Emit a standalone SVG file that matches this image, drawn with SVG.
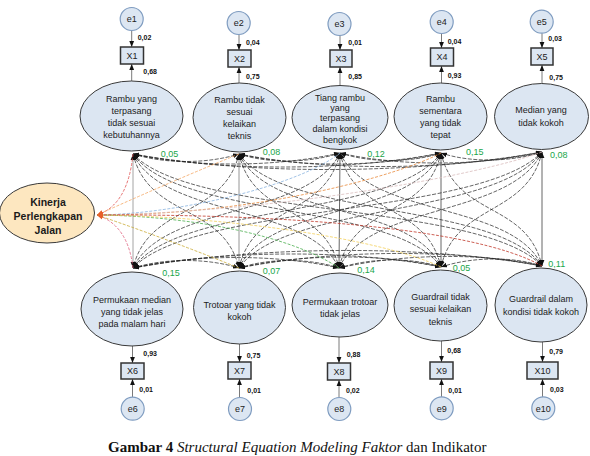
<svg xmlns="http://www.w3.org/2000/svg" width="590" height="456" viewBox="0 0 590 456">
<style>
.bg{fill:#ffffff}
.lat{fill:#dce6f2;stroke:#3a3a3a;stroke-width:1}
.kin{fill:#fde7c0;stroke:#3a3a3a;stroke-width:1}
.err{fill:#dce6f2;stroke:#7f9cc0;stroke-width:1.2}
.box{fill:#dce6f2;stroke:#333;stroke-width:1.5}
.lt{font-family:"Liberation Sans",Arial,sans-serif;font-size:9px;fill:#222;text-anchor:middle}
.kt{font-family:"Liberation Sans",Arial,sans-serif;font-size:10.5px;font-weight:bold;fill:#1a1a1a;text-anchor:middle}
.nt{font-family:"Liberation Sans",Arial,sans-serif;font-size:7px;font-weight:bold;fill:#111}
.gt{font-family:"Liberation Sans",Arial,sans-serif;font-size:9px;fill:#1aa64a}
.ind{stroke:#7a7a7a;stroke-width:1;fill:none;marker-end:url(#ah)}
.cov{stroke:#222;stroke-width:0.7;fill:none;stroke-dasharray:4 1.5;marker-start:url(#ah);marker-end:url(#ah)}
.vert{stroke:#555;stroke-width:0.9;fill:none;marker-start:url(#ah);marker-end:url(#ah)}
.col{stroke-width:0.8;fill:none;stroke-dasharray:3 1.5;marker-end:url(#ak)}
.cap{font-family:"Liberation Serif","Times New Roman",serif;font-size:15px;fill:#111}
</style>
<defs>
<marker id="ah" viewBox="0 0 10 10" refX="10" refY="5" markerWidth="6" markerHeight="6" markerUnits="userSpaceOnUse" orient="auto-start-reverse"><path d="M0,1 L10,5 L0,9 z" fill="#111"/></marker>
<marker id="ak" viewBox="0 0 10 10" refX="10" refY="5" markerWidth="6" markerHeight="6" markerUnits="userSpaceOnUse" orient="auto-start-reverse"><path d="M0,1 L10,5 L0,9 z" fill="#e8602c"/></marker>
</defs>
<rect class="bg" x="0" y="0" width="590" height="456"/>

<g id="connectors">
<line class="ind" x1="131.7" y1="30.5" x2="131.7" y2="47"/>
<line class="ind" x1="131.7" y1="81" x2="131.7" y2="64"/>
<line class="ind" x1="239" y1="34.5" x2="239" y2="50"/>
<line class="ind" x1="239" y1="83" x2="239" y2="67"/>
<line class="ind" x1="340" y1="35.5" x2="340" y2="50"/>
<line class="ind" x1="340" y1="85.5" x2="340" y2="67"/>
<line class="ind" x1="441.5" y1="33.5" x2="441.5" y2="48"/>
<line class="ind" x1="441.5" y1="83" x2="441.5" y2="66"/>
<line class="ind" x1="542" y1="33.2" x2="542" y2="48"/>
<line class="ind" x1="542" y1="84" x2="542" y2="65"/>
<line class="ind" x1="132.5" y1="346" x2="132.5" y2="363"/>
<line class="ind" x1="132.5" y1="397" x2="132.5" y2="379"/>
<line class="ind" x1="239.5" y1="344" x2="239.5" y2="362"/>
<line class="ind" x1="239.5" y1="397.5" x2="239.5" y2="379"/>
<line class="ind" x1="339" y1="337" x2="339" y2="363"/>
<line class="ind" x1="339" y1="397.5" x2="339" y2="380"/>
<line class="ind" x1="441.5" y1="341" x2="441.5" y2="362"/>
<line class="ind" x1="441.5" y1="397" x2="441.5" y2="379"/>
<line class="ind" x1="542.5" y1="342" x2="542.5" y2="362"/>
<line class="ind" x1="542.5" y1="397" x2="542.5" y2="379"/>

<path class="cov" d="M133,154 C165,164 207,164 239,154"/>
<path class="cov" d="M133,154 C195,168 278,167 340,153"/>
<path class="cov" d="M133,154 C225,172 349,171 441,153"/>
<path class="cov" d="M133,154 C256,176 419,174 542,152"/>
<path class="cov" d="M239,154 C269,164 310,163 340,153"/>
<path class="cov" d="M239,154 C300,168 380,167 441,153"/>
<path class="cov" d="M239,154 C330,172 451,170 542,152"/>
<path class="cov" d="M340,153 C370,163 411,163 441,153"/>
<path class="cov" d="M340,153 C401,167 481,166 542,152"/>
<path class="cov" d="M441,153 C471,163 512,162 542,152"/>
<path class="cov" d="M133,268 C165,258 207,258 239,268"/>
<path class="cov" d="M133,268 C195,254 277,254 339,268"/>
<path class="cov" d="M133,268 C225,250 349,249 441,267"/>
<path class="cov" d="M133,268 C256,246 419,244 542,266"/>
<path class="cov" d="M239,268 C269,258 309,258 339,268"/>
<path class="cov" d="M239,268 C300,254 380,253 441,267"/>
<path class="cov" d="M239,268 C330,250 451,248 542,266"/>
<path class="cov" d="M339,268 C370,258 410,257 441,267"/>
<path class="cov" d="M339,268 C400,254 481,252 542,266"/>
<path class="cov" d="M441,267 C471,257 512,256 542,266"/>
<line class="vert" x1="133" y1="154" x2="133" y2="268" style="stroke:#9a9a9a"/>
<line class="vert" x1="239" y1="154" x2="239" y2="268" style="stroke:#8a8a8a"/>
<line class="vert" x1="340" y1="153" x2="339" y2="268"/>
<line class="vert" x1="441" y1="153" x2="441" y2="267"/>
<line class="vert" x1="542" y1="152" x2="542" y2="266"/>
<path class="cov" d="M133,154 C149,219 223,203 239,268"/>
<path class="cov" d="M133,154 C164,219 308,203 339,268"/>
<path class="cov" d="M133,154 C179,219 395,202 441,267"/>
<path class="cov" d="M133,154 C194,219 481,201 542,266"/>
<path class="cov" d="M239,154 C223,219 149,203 133,268"/>
<path class="cov" d="M239,154 C254,219 324,203 339,268"/>
<path class="cov" d="M239,154 C269,219 411,202 441,267"/>
<path class="cov" d="M239,154 C284,219 497,201 542,266"/>
<path class="cov" d="M340,153 C309,218 164,203 133,268"/>
<path class="cov" d="M340,153 C325,218 254,203 239,268"/>
<path class="cov" d="M340,153 C355,218 426,202 441,267"/>
<path class="cov" d="M340,153 C370,218 512,201 542,266"/>
<path class="cov" d="M441,153 C395,218 179,203 133,268"/>
<path class="cov" d="M441,153 C411,218 269,203 239,268"/>
<path class="cov" d="M441,153 C426,218 354,203 339,268"/>
<path class="cov" d="M441,153 C456,218 527,201 542,266"/>
<path class="cov" d="M542,152 C481,217 194,203 133,268"/>
<path class="cov" d="M542,152 C497,217 284,203 239,268"/>
<path class="cov" d="M542,152 C512,217 369,203 339,268"/>
<path class="cov" d="M542,152 C527,217 456,202 441,267"/>
<path class="col" stroke="#e05050" d="M133,154 Q128,205 97,215"/>
<path class="col" stroke="#e0607e" d="M133,268 Q128,225 97,215"/>
<path class="col" stroke="#f4a460" d="M239,154 Q170,182 97,215"/>
<path class="col" stroke="#c8a830" d="M239,268 Q170,240 97,215"/>
<path class="col" stroke="#8ab4e0" d="M340,153 C300,185 180,214 97,215"/>
<path class="col" stroke="#e88a3c" d="M441,153 C400,175 260,215 97,215"/>
<path class="col" stroke="#d9bcbc" d="M542,152 C480,175 280,212 97,215"/>
<path class="col" stroke="#4caf50" d="M339,268 C290,235 190,216 97,215"/>
<path class="col" stroke="#f2cf5b" d="M441,267 C380,238 220,216 97,215"/>
<path class="col" stroke="#c0392b" d="M542,266 C470,225 260,214 97,215"/>
</g>

<g id="kinerja">
<ellipse class="kin" cx="47" cy="213" rx="47.5" ry="30"/>
<text class="kt" x="48" y="206">Kinerja</text>
<text class="kt" x="48" y="220">Perlengkapan</text>
<text class="kt" x="48" y="233.5">Jalan</text>
</g>

<g id="F1">
<ellipse class="lat" cx="131.5" cy="116" rx="51.5" ry="35"/>
<text class="lt" x="131.5" y="102">Rambu yang</text>
<text class="lt" x="131.5" y="114">terpasang</text>
<text class="lt" x="131.5" y="126">tidak sesuai</text>
<text class="lt" x="131.5" y="138">kebutuhannya</text>
<text class="gt" x="160.7" y="156.5">0,05</text>
</g>
<g id="F2">
<ellipse class="lat" cx="239.5" cy="117.5" rx="46.5" ry="34.5"/>
<text class="lt" x="239.5" y="103">Rambu tidak</text>
<text class="lt" x="239.5" y="115">sesuai</text>
<text class="lt" x="239.5" y="127">kelaikan</text>
<text class="lt" x="239.5" y="139">teknis</text>
<text class="gt" x="262.7" y="155">0,08</text>
</g>
<g id="F3">
<ellipse class="lat" cx="340" cy="117.5" rx="48" ry="32"/>
<text class="lt" x="340" y="100.5">Tiang rambu</text>
<text class="lt" x="340" y="110.5">yang</text>
<text class="lt" x="340" y="120.5">terpasang</text>
<text class="lt" x="340" y="131.5">dalam kondisi</text>
<text class="lt" x="340" y="142.5">bengkok</text>
<text class="gt" x="367.3" y="156.5">0,12</text>
</g>
<g id="F4">
<ellipse class="lat" cx="440.5" cy="116.5" rx="46.5" ry="33.5"/>
<text class="lt" x="440.5" y="102">Rambu</text>
<text class="lt" x="440.5" y="114">sementara</text>
<text class="lt" x="440.5" y="126">yang tidak</text>
<text class="lt" x="440.5" y="138">tepat</text>
<text class="gt" x="466" y="155">0,15</text>
</g>
<g id="F5">
<ellipse class="lat" cx="541.5" cy="116.5" rx="47" ry="33"/>
<text class="lt" x="541" y="113">Median yang</text>
<text class="lt" x="541" y="126">tidak kokoh</text>
<text class="gt" x="550" y="158">0,08</text>
</g>
<g id="F6">
<ellipse class="lat" cx="132" cy="309" rx="51" ry="37"/>
<text class="lt" x="132" y="302.5">Permukaan median</text>
<text class="lt" x="132" y="314.5">yang tidak jelas</text>
<text class="lt" x="132" y="326.5">pada malam hari</text>
<text class="gt" x="162.3" y="276">0,15</text>
</g>
<g id="F7">
<ellipse class="lat" cx="239.5" cy="307.5" rx="46" ry="36.5"/>
<text class="lt" x="239.5" y="308">Trotoar yang tidak</text>
<text class="lt" x="239.5" y="320">kokoh</text>
<text class="gt" x="262.7" y="274">0,07</text>
</g>
<g id="F8">
<ellipse class="lat" cx="340" cy="305" rx="48" ry="32"/>
<text class="lt" x="340" y="305">Permukaan trotoar</text>
<text class="lt" x="340" y="316.5">tidak jelas</text>
<text class="gt" x="357.3" y="272.5">0,14</text>
</g>
<g id="F9">
<ellipse class="lat" cx="440.5" cy="305.5" rx="46.5" ry="35.5"/>
<text class="lt" x="440.5" y="300">Guardrail tidak</text>
<text class="lt" x="440.5" y="312">sesuai kelaikan</text>
<text class="lt" x="440.5" y="324.5">teknis</text>
<text class="gt" x="452.7" y="270.5">0,05</text>
</g>
<g id="F10">
<ellipse class="lat" cx="541" cy="305" rx="46" ry="37"/>
<text class="lt" x="541" y="302">Guardrail dalam</text>
<text class="lt" x="541" y="315">kondisi tidak kokoh</text>
<text class="gt" x="548.3" y="267">0,11</text>
</g>

<g id="X1"><rect class="box" x="120.5" y="47" width="23" height="17"/><text class="lt" x="132" y="58.7">X1</text>
<text class="nt" x="137.7" y="40.2">0,02</text><text class="nt" x="143.3" y="73.5">0,68</text></g>
<g id="X2"><rect class="box" x="228" y="50" width="23" height="17"/><text class="lt" x="239.5" y="61.7">X2</text>
<text class="nt" x="246" y="44.8">0,04</text><text class="nt" x="246" y="78.5">0,75</text></g>
<g id="X3"><rect class="box" x="330" y="50" width="22" height="17"/><text class="lt" x="341" y="61.7">X3</text>
<text class="nt" x="348.3" y="44.8">0,01</text><text class="nt" x="348.3" y="79.2">0,85</text></g>
<g id="X4"><rect class="box" x="430.5" y="48" width="23" height="18"/><text class="lt" x="442" y="60.2">X4</text>
<text class="nt" x="447.7" y="44.2">0,04</text><text class="nt" x="447.7" y="77.5">0,93</text></g>
<g id="X5"><rect class="box" x="531" y="48" width="22" height="17"/><text class="lt" x="542" y="59.7">X5</text>
<text class="nt" x="548.3" y="40.8">0,03</text><text class="nt" x="549.3" y="79.8">0,75</text></g>
<g id="X6"><rect class="box" x="121" y="363" width="23" height="16"/><text class="lt" x="132.5" y="374.2">X6</text>
<text class="nt" x="143.3" y="355.8">0,93</text><text class="nt" x="139.3" y="391.8">0,01</text></g>
<g id="X7"><rect class="box" x="228" y="362" width="23" height="17"/><text class="lt" x="239.5" y="373.7">X7</text>
<text class="nt" x="246.7" y="357.8">0,75</text><text class="nt" x="247.3" y="392.5">0,01</text></g>
<g id="X8"><rect class="box" x="327.5" y="363" width="23" height="17"/><text class="lt" x="339" y="374.7">X8</text>
<text class="nt" x="346.7" y="356.8">0,88</text><text class="nt" x="346" y="392.5">0,02</text></g>
<g id="X9"><rect class="box" x="430" y="362" width="23" height="17"/><text class="lt" x="441.5" y="373.7">X9</text>
<text class="nt" x="447.3" y="353.2">0,68</text><text class="nt" x="448.3" y="392.5">0,01</text></g>
<g id="X10"><rect class="box" x="527" y="362" width="31" height="17"/><text class="lt" x="542.5" y="373.7">X10</text>
<text class="nt" x="549.3" y="354.2">0,79</text><text class="nt" x="550" y="391.5">0,03</text></g>

<g id="e1"><circle class="err" cx="131.7" cy="19" r="11.5"/><text class="lt" x="131.7" y="22.2">e1</text></g>
<g id="e2"><circle class="err" cx="238.7" cy="23" r="11.5"/><text class="lt" x="238.7" y="26.2">e2</text></g>
<g id="e3"><circle class="err" cx="339.5" cy="24" r="11.5"/><text class="lt" x="339.5" y="27.2">e3</text></g>
<g id="e4"><circle class="err" cx="441.7" cy="22" r="11.5"/><text class="lt" x="441.7" y="25.2">e4</text></g>
<g id="e5"><circle class="err" cx="541.7" cy="21.7" r="11.5"/><text class="lt" x="541.7" y="24.9">e5</text></g>
<g id="e6"><circle class="err" cx="132.7" cy="408.7" r="11.5"/><text class="lt" x="132.7" y="411.9">e6</text></g>
<g id="e7"><circle class="err" cx="240" cy="409" r="11.5"/><text class="lt" x="240" y="412.2">e7</text></g>
<g id="e8"><circle class="err" cx="339.3" cy="409" r="11.5"/><text class="lt" x="339.3" y="412.2">e8</text></g>
<g id="e9"><circle class="err" cx="441.7" cy="408.3" r="11.5"/><text class="lt" x="441.7" y="411.5">e9</text></g>
<g id="e10"><circle class="err" cx="543.3" cy="408.3" r="11.5"/><text class="lt" x="543.3" y="411.5">e10</text></g>

<text class="cap" x="108" y="452"><tspan font-weight="bold">Gambar 4</tspan> <tspan font-style="italic">Structural Equation Modeling Faktor</tspan> dan Indikator</text>
</svg>
